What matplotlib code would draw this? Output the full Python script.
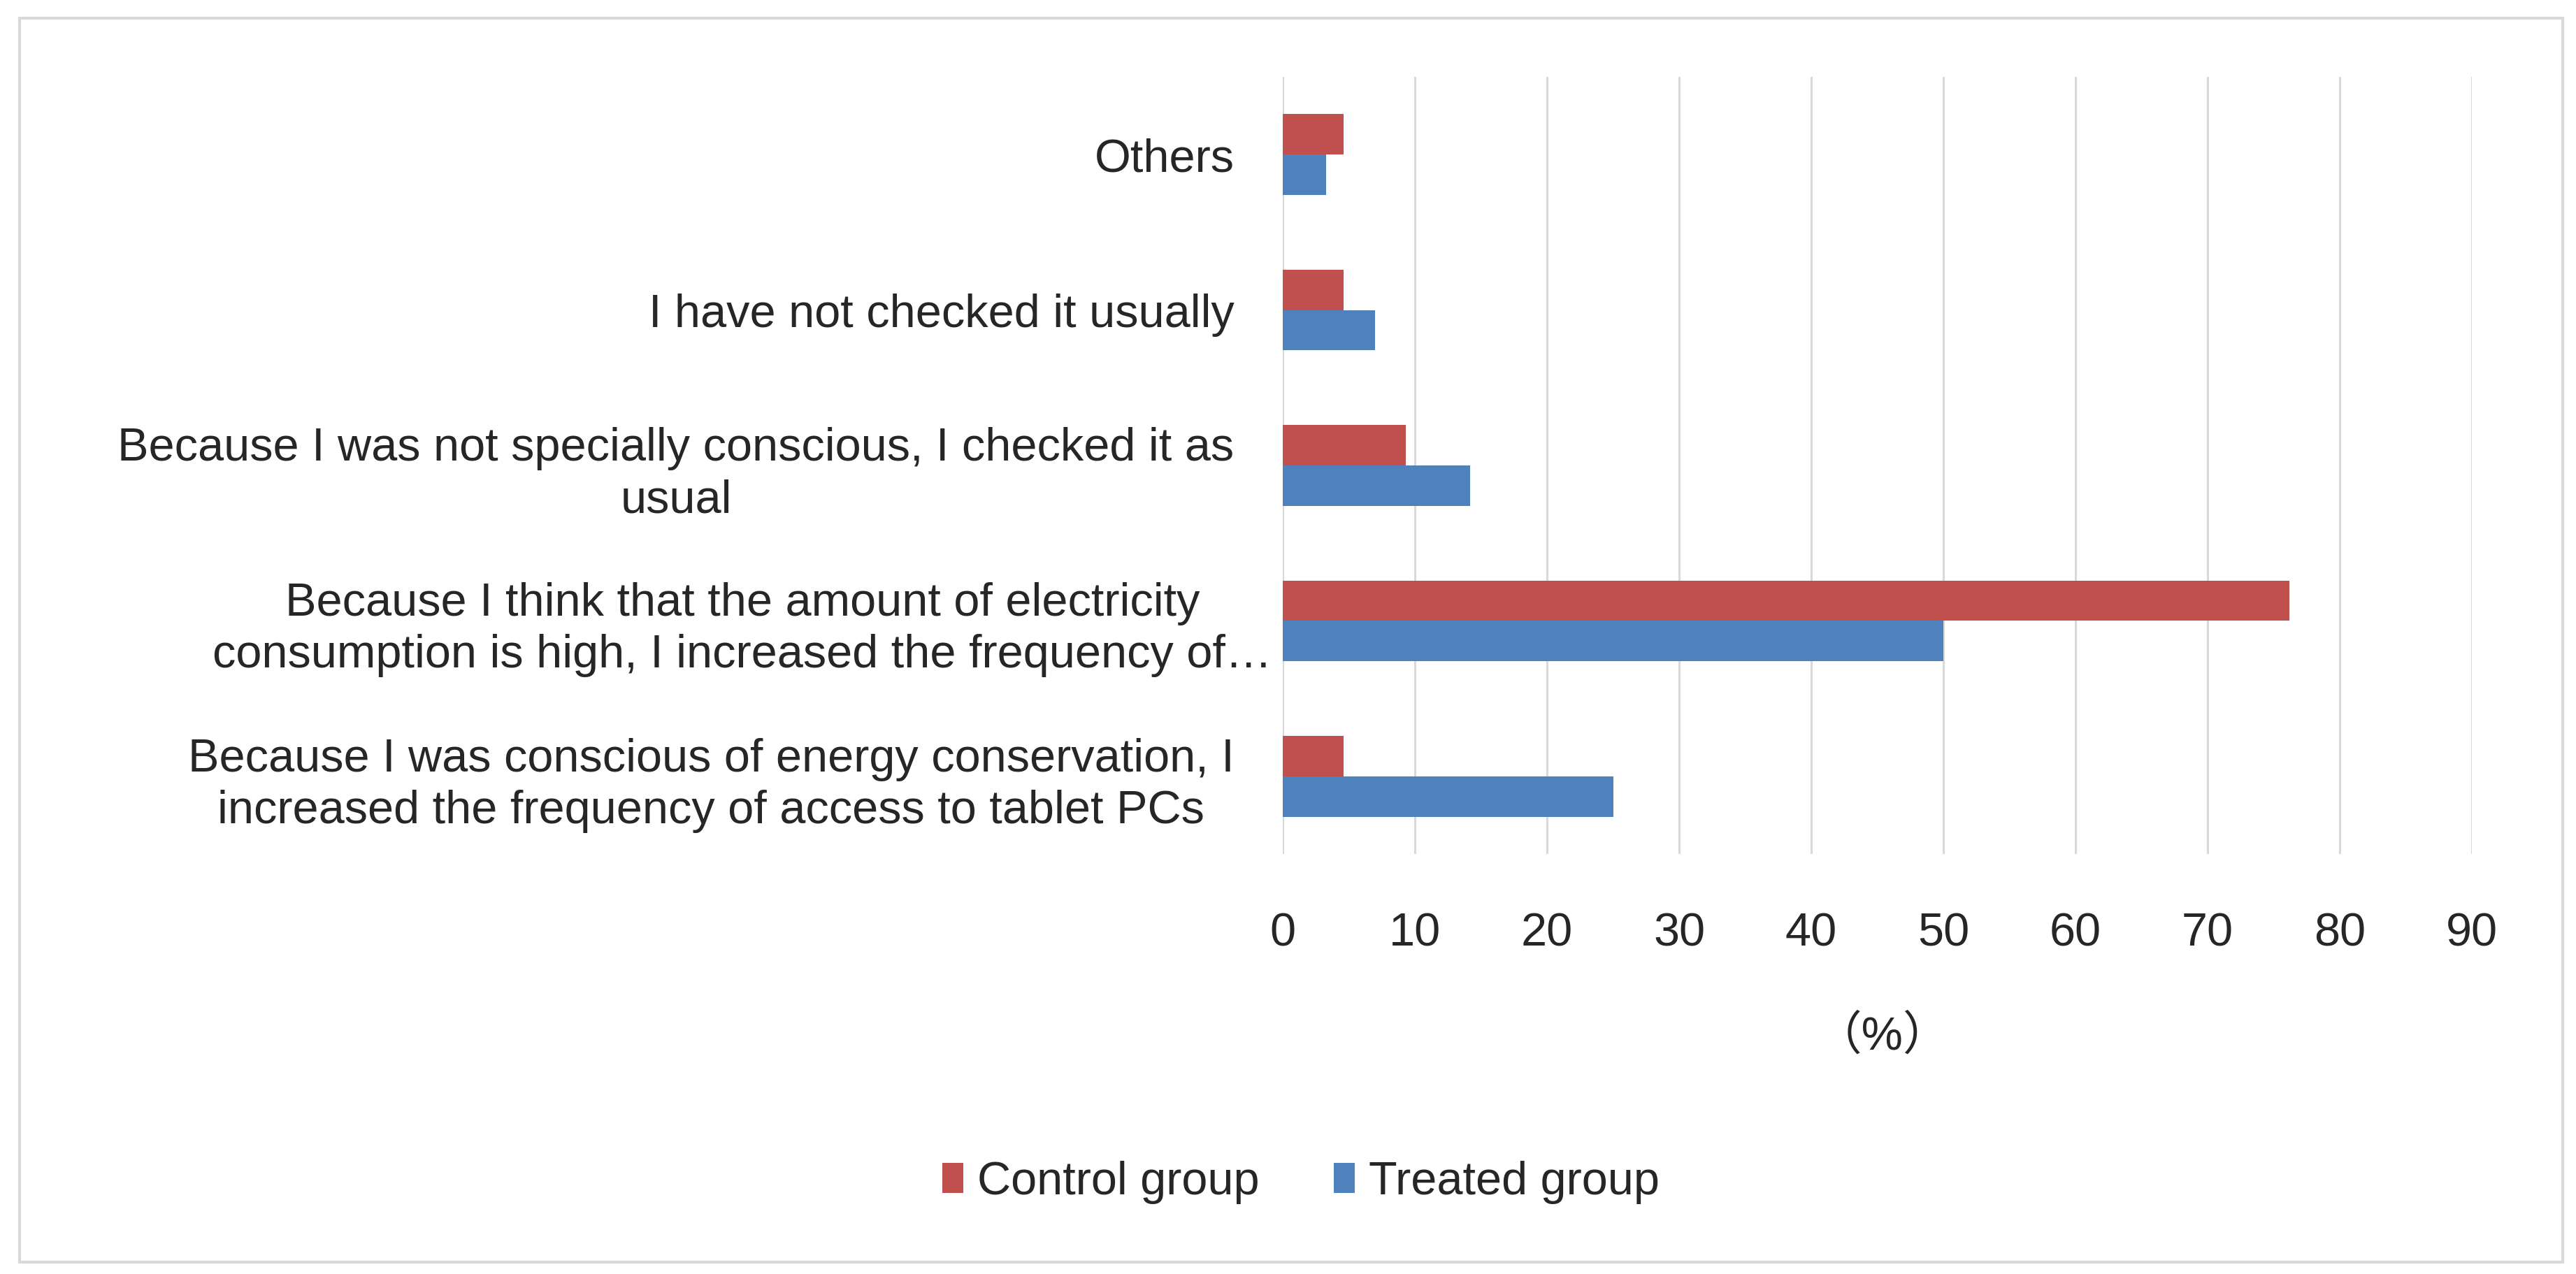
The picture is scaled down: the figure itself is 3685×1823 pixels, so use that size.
import matplotlib
matplotlib.use("Agg")
import matplotlib.pyplot as plt
import matplotlib.transforms as mtransforms
import numpy as np

categories = [
    "Because I was conscious of energy conservation, I\nincreased the frequency of access to tablet PCs",
    "Because I think that the amount of electricity\nconsumption is high, I increased the frequency of\u2026",
    "Because I was not specially conscious, I checked it as\nusual",
    "I have not checked it usually",
    "Others",
]
control = [4.6, 76.2, 9.3, 4.6, 4.6]
treated = [25.0, 50.0, 14.2, 7.0, 3.3]
xticks = [0, 10, 20, 30, 40, 50, 60, 70, 80, 90]
series_names = ["Control group", "Treated group"]

RED = "#C0504D"
BLUE = "#4F81BD"
FONT = ["Liberation Sans Narrow", "Liberation Sans", "Noto Sans CJK JP", "DejaVu Sans"]
plt.rcParams["font.family"] = FONT
FS = 48

W, H = 3685, 1823
fig = plt.figure(figsize=(W / 100, H / 100), dpi=100)
ax = fig.add_axes([1835 / W, 1 - 1222 / H, (3536 - 1835) / W, (1222 - 110) / H])

y = np.arange(len(categories))
bh = 0.26
ax.barh(y + bh / 2, control, height=bh, color=RED, label=series_names[0], zorder=3)
ax.barh(y - bh / 2, treated, height=bh, color=BLUE, label=series_names[1], zorder=3)

ax.set_xlim(0, 90)
ax.set_ylim(-0.5, len(categories) - 0.5)
ax.set_xticks(xticks)
ax.set_xticklabels([str(t) for t in xticks], fontsize=FS, color="#262626")
ax.set_yticks(y)
ax.set_yticklabels(categories, fontsize=FS, color="#262626", multialignment="center",
                   linespacing=1.25)
ax.tick_params(axis="x", length=0, pad=60)
ax.tick_params(axis="y", length=0, pad=50)

# the truncated label sits a bit further right in the original
lbl = ax.get_yticklabels()[1]
lbl.set_transform(lbl.get_transform() + mtransforms.ScaledTranslation(54 / 100, 0, fig.dpi_scale_trans))

ax.grid(axis="x", color="#D9D9D9", linewidth=2.2, zorder=0)
ax.grid(axis="y", visible=False)
for s in ax.spines.values():
    s.set_visible(False)

fig.text(2693 / W, 1 - 1484 / H, "\uff08%\uff09", fontsize=FS, ha="center", va="center",
         color="#262626", family=FONT)

leg = fig.legend(loc="center", bbox_to_anchor=(1861 / W, 1 - 1692 / H), ncol=2, frameon=False,
                 fontsize=FS, handlelength=0.45, handleheight=0.6, handletextpad=0.3,
                 columnspacing=1.6)
for t in leg.get_texts():
    t.set_color("#262626")

# outer border
border = plt.Rectangle((28 / W, 1 - 1806 / H), (3666 - 28) / W, (1806 - 26) / H,
                       transform=fig.transFigure, fill=False, edgecolor="#D9D9D9", linewidth=3)
fig.patches.append(border)

fig.savefig("out.png", dpi=100, facecolor="white")
